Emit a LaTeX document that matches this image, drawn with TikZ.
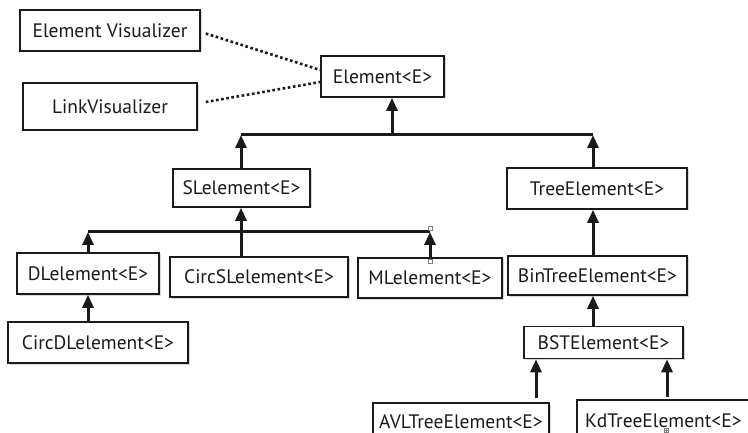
\documentclass[tikz,border=0pt]{standalone}
\usepackage{fontspec}
\setmainfont{PT Sans}
\usetikzlibrary{arrows.meta,shadows}
\definecolor{ink}{HTML}{1A1A1A}
\tikzset{
  box/.style={draw=ink, line width=1.6pt, fill=white, rectangle, inner sep=0pt,
    text=ink, font=\fontsize{19.5}{22}\selectfont,
    drop shadow={shadow xshift=1.5pt, shadow yshift=-1.5pt, opacity=0.3, fill=gray}},
  bar/.style={draw=ink, line width=3pt},
  arr/.style={draw=ink, line width=3pt, -{Triangle[width=11pt,length=13pt]}},
  dots/.style={draw=ink, line width=2.6pt, dash pattern=on 2.6pt off 2.6pt},
  handle/.style={draw=gray, line width=0.6pt, fill=white, rectangle, minimum size=4pt, inner sep=0pt}
}
\begin{document}
\begin{tikzpicture}[x=1pt,y=-1pt]
\useasboundingbox (0,0) rectangle (748,433);
\clip (0,0) rectangle (748,433);
\fill[white] (0,0) rectangle (748,433);
% nodes
\node[box, minimum width=180pt, minimum height=41pt] (ev) at (110,30.5) {Element Visualizer};
\node[box, minimum width=174pt, minimum height=47pt] (lv) at (110,106.5) {LinkVisualizer};
\node[box, minimum width=123pt, minimum height=41pt] (el) at (382.5,76.5) {Element<E>};
\node[box, minimum width=137pt, minimum height=38pt] (sl) at (241.5,188) {SLelement<E>};
\node[box, minimum width=180pt, minimum height=41pt] (te) at (597,188.5) {TreeElement<E>};
\node[box, minimum width=142pt, minimum height=41pt] (dl) at (88,273.5) {DLelement<E>};
\node[box, minimum width=178pt, minimum height=40pt] (csl) at (259,277) {CircSLelement<E>};
\node[box, minimum width=144pt, minimum height=40pt] (ml) at (430,278) {MLelement<E>};
\node[box, minimum width=180pt, minimum height=41pt] (cdl) at (98,342.5) {CircDLelement<E>};
\node[box, minimum width=179pt, minimum height=39pt] (bt) at (597.5,275.5) {BinTreeElement<E>};
\node[box, minimum width=159pt, minimum height=32pt] (bst) at (603.5,342.5) {BSTElement<E>};
\node[box, minimum width=176pt, minimum height=38pt] (avl) at (461,422) {AVLTreeElement<E>};
\node[box, minimum width=180pt, minimum height=41pt, text width=170pt, align=left, inner xsep=8pt] (kd) at (670,420.5) {KdTreeElement<E>};
% dotted associations
\draw[dots] (ev.east) ++(5,3) coordinate (ev1) -- ([yshift=6.5pt]el.west);
\draw[dots] (lv.east) ++(8,-4.5) coordinate (lv1) -- ([yshift=-5.5pt]el.west);
% top level bar
\coordinate (b1) at (392,135);
\coordinate (b1l) at (241,135);
\coordinate (b1r) at (593,135);
\draw[bar] (b1l) -- (b1r);
\draw[arr] (b1) -- (b1 |- el.south);
\draw[arr] (b1l |- sl.north) -- (b1l);
\draw[arr] (b1r |- te.north) -- (b1r);
% SL bar
\coordinate (b2) at (241,232);
\coordinate (b2l) at (88,232);
\coordinate (b2r) at (430,232);
\draw[bar] (b2l) -- (b2r);
\draw[arr] (b2) -- (b2 |- sl.south);
\draw[bar] (b2) -- (b2 |- csl.north);
\draw[arr] (b2l |- dl.north) -- (b2l);
\draw[arr] (b2r |- ml.north) -- (b2r);
\draw[arr] (b2l |- cdl.north) -- (b2l |- dl.south);
% tree chain
\coordinate (tx) at (593,0);
\draw[arr] (tx |- bt.north) -- (tx |- te.south);
\draw[arr] (tx |- bst.north) -- (tx |- bt.south);
\coordinate (ax) at (536,398);
\coordinate (kx) at (667,397);
\draw[arr] (ax) -- (ax |- bst.south);
\draw[arr] (kx) -- (kx |- bst.south);
% selection handles
\node[handle] (h1) at (430,228) {};
\node[handle] (h2) at (430,261) {};
\node[handle] (h3) at (666,430) {};
\draw[gray, line width=0.5pt] (h3.west) -- (h3.east) (h3.north) -- (h3.south);
\end{tikzpicture}
\end{document}
